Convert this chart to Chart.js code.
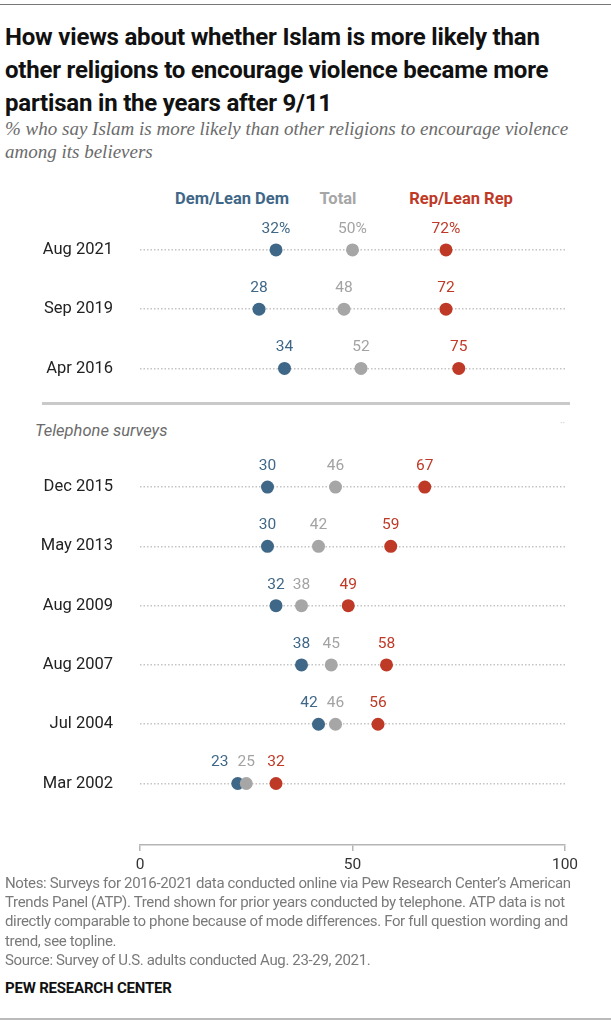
<!DOCTYPE html>
<html>
<head>
<meta charset="utf-8">
<script src="https://cdn.jsdelivr.net/npm/chart.js@4.4.1/dist/chart.umd.min.js"></script>
<style>
  body { margin: 0; background: #fff; font-family: Roboto, sans-serif; }
  #wrap { position: relative; width: 611px; height: 1024px; overflow: hidden; }
  .abs { position: absolute; white-space: nowrap; }
  #topline { left: 0; top: 4px; width: 611px; height: 1px; background: #777; }
  #title { left: 5px; top: 21px; font-weight: 700; font-size: 24px; line-height: 33px; color: #111; white-space: normal; width: 575px; letter-spacing: -0.2px; }
  #sub { left: 5px; top: 117px; font-family: "Liberation Serif", serif; font-style: italic; font-size: 19px; line-height: 23px; color: #6b6b6b; white-space: normal; width: 580px; }
  .hdr { top: 189px; font-weight: 700; font-size: 16.5px; transform: translateX(-50%); }
  #sep { left: 42px; top: 402px; width: 528px; height: 3px; background: #c9c9c9; }
  #tel { left: 35px; top: 421px; font-style: italic; font-size: 16.5px; color: #6b6b6b; }
  #dots { left: 560px; top: 418px; font-size: 10px; color: #c8c8c8; }
  #chartBox { left: 0; top: 180px; width: 611px; height: 697px; }
  #notes { left: 5px; top: 874px; font-size: 15px; line-height: 19.2px; color: #7a7a7a; white-space: normal; width: 600px; letter-spacing: -0.35px; }
  #pew { left: 5px; top: 979px; font-weight: 700; font-size: 15px; color: #111; letter-spacing: -0.2px; }
  #botline { left: 0; top: 1018px; width: 611px; height: 2px; background: #bbb; }
</style>
</head>
<body>
<div id="wrap">
  <div class="abs" id="topline"></div>
  <div class="abs" id="title">How views about whether Islam is more likely than other religions to encourage violence became more partisan in the years after 9/11</div>
  <div class="abs" id="sub">% who say Islam is more likely than other religions to encourage violence among its believers</div>
  <div class="abs hdr" style="left:232px;color:#3f6787">Dem/Lean Dem</div>
  <div class="abs hdr" style="left:338px;color:#a6a6a6">Total</div>
  <div class="abs hdr" style="left:461px;color:#bf3927">Rep/Lean Rep</div>
  <div class="abs" id="sep"></div>
  <div class="abs" id="tel">Telephone surveys</div>
  <div class="abs" id="dots">··</div>
  <div class="abs" id="chartBox"><canvas id="dumbbell"></canvas></div>
  <div class="abs" id="notes">Notes: Surveys for 2016-2021 data conducted online via Pew Research Center’s American Trends Panel (ATP). Trend shown for prior years conducted by telephone. ATP data is not directly comparable to phone because of mode differences. For full question wording and trend, see topline.<br>Source: Survey of U.S. adults conducted Aug. 23-29, 2021.</div>
  <div class="abs" id="pew">PEW RESEARCH CENTER</div>
  <div class="abs" id="botline"></div>
</div>
<script>
// survey waves, top to bottom (one empty row between online and phone surveys)
const surveys = ['Aug 2021', 'Sep 2019', 'Apr 2016', 'Dec 2015', 'May 2013', 'Aug 2009', 'Aug 2007', 'Jul 2004', 'Mar 2002'];
const rowPos = [0, 1, 2, 4, 5, 6, 7, 8, 9];
const demValues = [32, 28, 34, 30, 30, 32, 38, 42, 23];
const totalValues = [50, 48, 52, 46, 42, 38, 45, 46, 25];
const repValues = [72, 72, 75, 67, 59, 49, 58, 56, 32];
const xTicks = [0, 50, 100];

const toPoints = vals => vals.map((v, i) => ({ x: v, y: rowPos[i] }));

// value labels above each dot, nudging left ones away when they collide
const valueLabels = {
  id: 'valueLabels',
  afterDatasetsDraw(chart) {
    const ctx = chart.ctx;
    ctx.save();
    ctx.font = '15.5px Roboto';
    ctx.textAlign = 'center';
    ctx.textBaseline = 'middle';
    const metas = chart.data.datasets.map((ds, di) => chart.getDatasetMeta(di));
    rowPos.forEach((r, i) => {
      const items = chart.data.datasets.map((ds, di) => {
        const pt = metas[di].data[i];
        const txt = ds.data[i].x + (i === 0 ? '%' : '');
        return { txt, x: pt.x, y: pt.y, w: ctx.measureText(txt).width, color: ds.labelColor };
      }).sort((a, b) => a.x - b.x);
      for (let k = items.length - 2; k >= 0; k--) {
        const a = items[k], b = items[k + 1];
        const gap = (b.x - b.w / 2) - (a.x + a.w / 2);
        if (gap < 8) a.x = b.x - b.w / 2 - 9 - a.w / 2;
      }
      items.forEach(it => {
        ctx.fillStyle = it.color;
        ctx.fillText(it.txt, it.x, it.y - 21);
      });
    });
    ctx.restore();
  }
};

const ctx = document.getElementById('dumbbell').getContext('2d');
const chart = new Chart(ctx, {
  type: 'scatter',
  data: {
    datasets: [
      {
        label: 'Dem/Lean Dem',
        data: toPoints(demValues),
        backgroundColor: '#3f6787',
        labelColor: '#3f6787',
        order: 3
      },
      {
        label: 'Total',
        data: toPoints(totalValues),
        backgroundColor: '#a6a6a6',
        labelColor: '#a3a3a3',
        order: 2
      },
      {
        label: 'Rep/Lean Rep',
        data: toPoints(repValues),
        backgroundColor: '#bf3927',
        labelColor: '#bf3927',
        order: 1
      }
    ]
  },
  options: {
    responsive: true,
    maintainAspectRatio: false,
    animation: false,
    events: [],
    elements: {
      point: { radius: 6.5, borderWidth: 0, hoverRadius: 6.5 }
    },
    layout: { padding: { left: 0, right: 46, top: 0, bottom: 0 } },
    scales: {
      x: {
        type: 'linear',
        min: 0,
        max: 100,
        afterBuildTicks: axis => { axis.ticks = xTicks.map(v => ({ value: v })); },
        afterFit: axis => { axis.height = 32; axis.paddingLeft = 0; axis.paddingRight = 0; },
        grid: { drawOnChartArea: false, drawTicks: true, tickLength: 6, color: '#b5b5b5', lineWidth: 1.5 },
        border: { display: true, color: '#b5b5b5', width: 1.5 },
        ticks: { padding: 5, color: '#333', font: { family: 'Roboto', size: 15.5 } }
      },
      y: {
        type: 'linear',
        reverse: true,
        min: -1.069,
        max: 10.037,
        afterBuildTicks: axis => { axis.ticks = rowPos.map(v => ({ value: v })); },
        afterFit: axis => { axis.width = 140; axis.paddingTop = 0; axis.paddingBottom = 0; },
        grid: { drawTicks: false, color: '#c4c4c4', lineWidth: 1.5 },
        border: { display: false, dash: [1.5, 2] },
        ticks: {
          padding: 27,
          color: '#222',
          font: { family: 'Roboto', size: 16.5 },
          callback: v => surveys[rowPos.indexOf(v)]
        }
      }
    },
    plugins: {
      legend: { display: false },
      tooltip: { enabled: false }
    }
  },
  plugins: [valueLabels]
});
</script>
</body>
</html>
